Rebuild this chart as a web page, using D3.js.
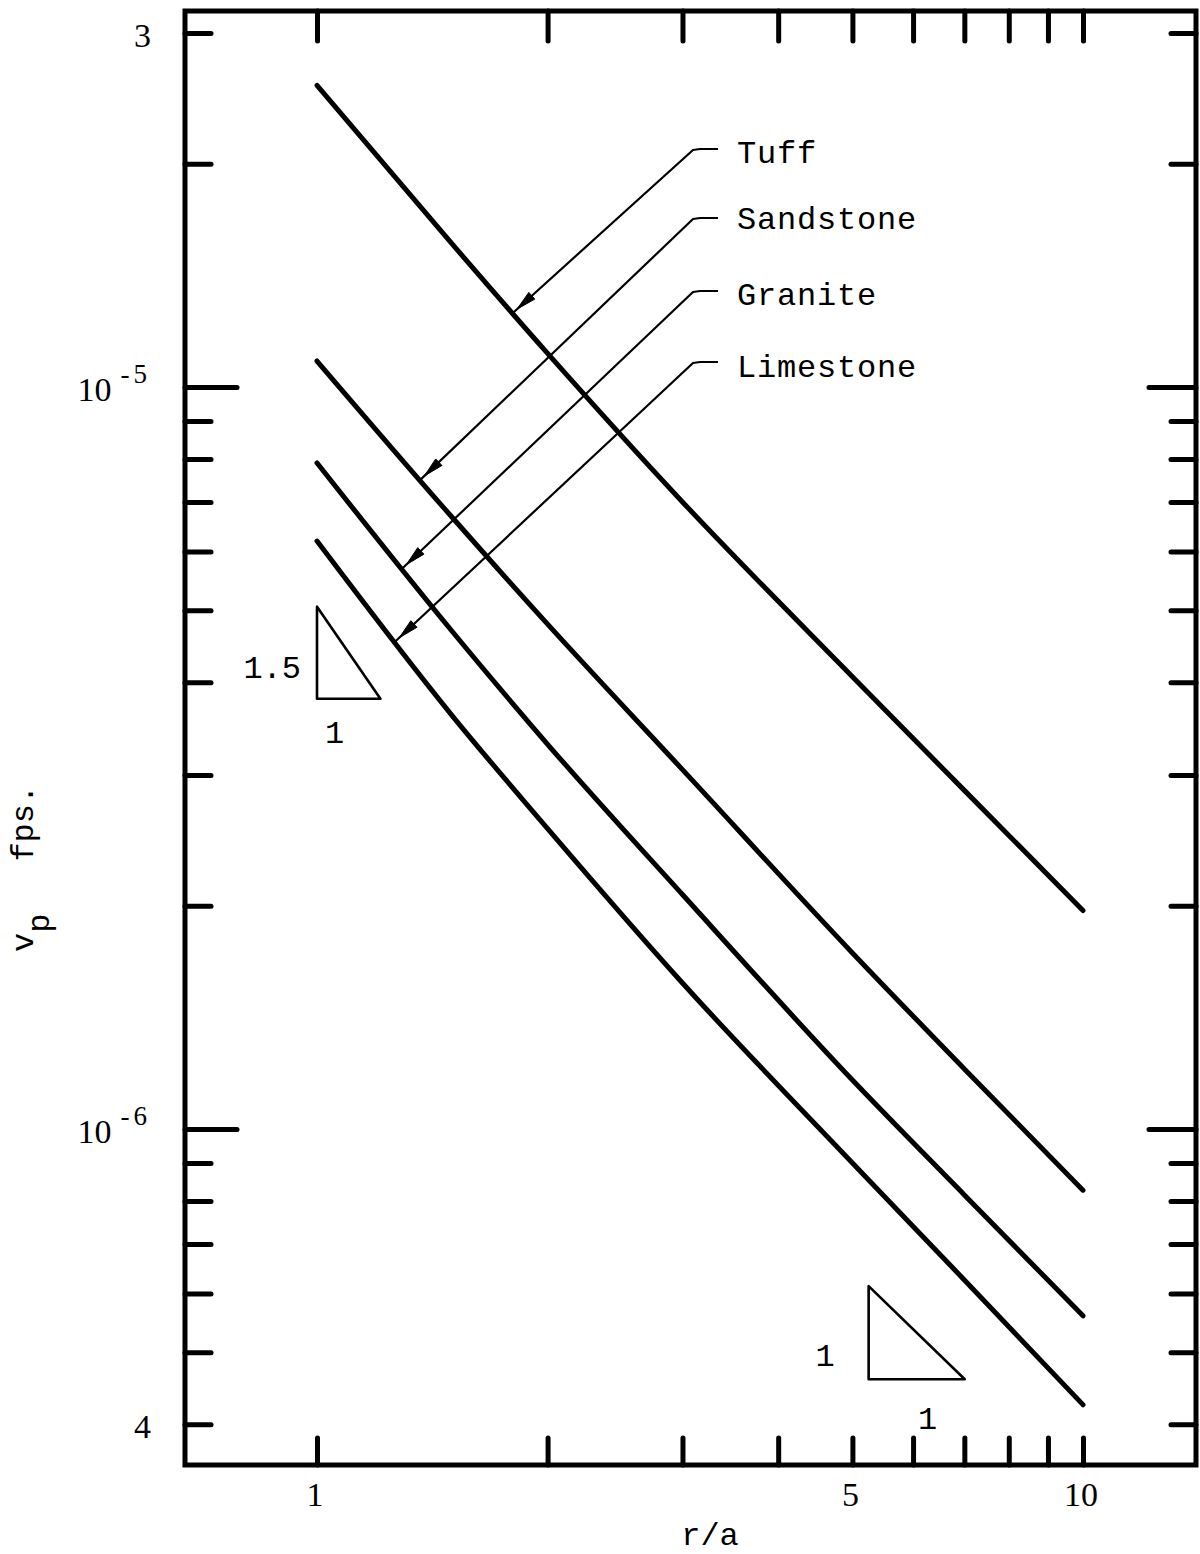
<!DOCTYPE html>
<html>
<head>
<meta charset="utf-8">
<script src="https://cdn.jsdelivr.net/npm/d3@7"></script>
<style>
  html, body { margin: 0; padding: 0; background: #fff; }
  svg { display: block; }
</style>
</head>
<body>
<svg id="chart" width="1200" height="1554"></svg>
<script>
// ---- data ---------------------------------------------------------------
// r/a sample points shared by the four curves
const ratio = [1, 1.5, 2, 3, 5, 7, 10];
// peak particle velocity v_p (fps) per rock type
const tuff      = [2.55e-5, 1.56e-5, 1.11e-5, 7.0e-6, 4.07e-6, 2.86e-6, 1.97e-6];
const sandstone = [1.084e-5, 6.68e-6, 4.79e-6, 3.05e-6, 1.727e-6, 1.205e-6, 8.27e-7];
const granite   = [7.9e-6, 4.69e-6, 3.30e-6, 2.07e-6, 1.164e-6, 8.15e-7, 5.6e-7];
const limestone = [6.2e-6, 3.61e-6, 2.54e-6, 1.573e-6, 9.0e-7, 6.26e-7, 4.25e-7];
const rockNames = ["Tuff", "Sandstone", "Granite", "Limestone"];
const rockSeries = [tuff, sandstone, granite, limestone];
// r/a where each label's leader arrow meets its curve
const arrowRatio = [1.80, 1.363, 1.291, 1.264];

// axis ticks
const xTicks = [1, 2, 3, 4, 5, 6, 7, 8, 9, 10];
const xLabelValues = [1, 5, 10];
const xLabelText = ["1", "5", "10"];
const yMinorTicks = [3e-5, 2e-5, 9e-6, 8e-6, 7e-6, 6e-6, 5e-6, 4e-6, 3e-6, 2e-6,
                     9e-7, 8e-7, 7e-7, 6e-7, 5e-7, 4e-7];
const yMajorTicks = [1e-5, 1e-6];
const yLabelValues = [3e-5, 1e-5, 1e-6, 4e-7];
const yLabelBase = ["3", "10", "10", "4"];
const yLabelExp = ["", "-5", "-6", ""];

// slope triangles: right-angle corner (r/a, v), horizontal run factor, slope
const slopeCornerR = [1.0, 5.25];
const slopeCornerV = [3.8e-6, 4.6e-7];
const slopeRun = [1.21, 1.335];
const slopeRise = [1.5, 1];
const slopeRiseText = ["1.5", "1"];
const slopeRunText = ["1", "1"];

// ---- layout -------------------------------------------------------------
const frame = { left: 185, right: 1196, top: 11, bottom: 1465 };
const serif = "'Liberation Serif', 'Times New Roman', serif";
const mono = "'Liberation Mono', 'Courier New', monospace";

const x = d3.scaleLog().domain([1, 10]).range([317, 1083]);
const y = d3.scaleLog().domain([1e-5, 1e-6]).range([387, 1129]);

const svg = d3.select("#chart");

// ---- frame --------------------------------------------------------------
svg.append("rect")
  .attr("x", frame.left).attr("y", frame.top)
  .attr("width", frame.right - frame.left)
  .attr("height", frame.bottom - frame.top)
  .attr("fill", "none").attr("stroke", "#000").attr("stroke-width", 5);

// ---- tick marks (all pointing into the plot) ----------------------------
function styleTicks(g) {
  g.select(".domain").remove();
  g.selectAll(".tick line")
    .attr("stroke", "#000").attr("stroke-width", 5).attr("stroke-linecap", "round");
  g.selectAll(".tick text").remove();
}
svg.append("g").attr("transform", `translate(${frame.left},0)`)
  .call(d3.axisRight(y).tickValues(yMinorTicks).tickSize(26)).call(styleTicks);
svg.append("g").attr("transform", `translate(${frame.left},0)`)
  .call(d3.axisRight(y).tickValues(yMajorTicks).tickSize(52)).call(styleTicks);
svg.append("g").attr("transform", `translate(${frame.right},0)`)
  .call(d3.axisLeft(y).tickValues(yMinorTicks).tickSize(25)).call(styleTicks);
svg.append("g").attr("transform", `translate(${frame.right},0)`)
  .call(d3.axisLeft(y).tickValues(yMajorTicks).tickSize(47)).call(styleTicks);
svg.append("g").attr("transform", `translate(0,${frame.bottom})`)
  .call(d3.axisTop(x).tickValues(xTicks).tickSize(27)).call(styleTicks);
svg.append("g").attr("transform", `translate(0,${frame.top})`)
  .call(d3.axisBottom(x).tickValues(xTicks).tickSize(30)).call(styleTicks);

// ---- tick labels --------------------------------------------------------
const yLab = svg.append("g")
  .attr("font-family", serif).attr("font-size", 34).attr("fill", "#000");
yLabelValues.forEach((v, i) => {
  const t = yLab.append("text")
    .attr("x", 151).attr("y", y(v) + 14)
    .attr("text-anchor", "end");
  t.append("tspan").text(yLabelBase[i]);
  if (yLabelExp[i]) {
    t.append("tspan").attr("dx", 9).attr("dy", -18)
      .attr("font-size", 27).attr("letter-spacing", 4).text(yLabelExp[i]);
  }
});

svg.append("g")
  .attr("font-family", serif).attr("font-size", 34).attr("fill", "#000")
  .selectAll("text").data(xLabelValues).join("text")
  .attr("x", d => x(d) - 2).attr("y", 1506)
  .attr("text-anchor", "middle")
  .text((d, i) => xLabelText[i]);

// ---- axis titles --------------------------------------------------------
svg.append("text")
  .attr("x", 710).attr("y", 1545)
  .attr("text-anchor", "middle")
  .attr("font-family", mono).attr("font-size", 32).attr("fill", "#000")
  .text("r/a");

const yTitle = svg.append("text")
  .attr("transform", "translate(33,952) rotate(-90)")
  .attr("font-family", mono).attr("font-size", 32).attr("fill", "#000");
yTitle.append("tspan").text("v");
yTitle.append("tspan").attr("dy", 16).text("p");
yTitle.append("tspan").attr("dy", -16).attr("dx", 52).text("fps.");

// ---- curves -------------------------------------------------------------
const line = d3.line()
  .x(d => x(d[0]))
  .y(d => y(d[1]))
  .curve(d3.curveMonotoneX);

rockSeries.forEach(series => {
  svg.append("path")
    .datum(ratio.map((r, i) => [r, series[i]]))
    .attr("d", line)
    .attr("fill", "none")
    .attr("stroke", "#000")
    .attr("stroke-width", 5)
    .attr("stroke-linecap", "round")
    .attr("stroke-linejoin", "round");
});

// value of a series at r, interpolated in log-log between samples
function valueAt(series, r) {
  const lr = Math.log10(r);
  for (let i = 0; i < ratio.length - 1; i++) {
    const a = Math.log10(ratio[i]), b = Math.log10(ratio[i + 1]);
    if (lr >= a && lr <= b) {
      const t = (lr - a) / (b - a);
      const la = Math.log10(series[i]), lb = Math.log10(series[i + 1]);
      return Math.pow(10, la + t * (lb - la));
    }
  }
  return series[series.length - 1];
}

// ---- labels with leader arrows -----------------------------------------
const labelBaseline = [163, 229, 305, 377];
const leaderY = [149, 218, 291, 362];
const labels = svg.append("g");
rockNames.forEach((name, i) => {
  const tipX = x(arrowRatio[i]);
  const tipY = y(valueAt(rockSeries[i], arrowRatio[i]));
  const kneeX = 693, kneeY = leaderY[i] + 1;
  labels.append("path")
    .attr("d", `M718,${leaderY[i]} L700,${leaderY[i]} L${kneeX},${kneeY} L${tipX},${tipY}`)
    .attr("fill", "none").attr("stroke", "#000").attr("stroke-width", 2.2)
    .attr("stroke-linejoin", "round");
  // arrowhead a few pixels back from the curve
  const dx = tipX - kneeX, dy = tipY - kneeY;
  const len = Math.hypot(dx, dy);
  const ux = dx / len, uy = dy / len;
  const hx = tipX - 6 * ux, hy = tipY - 6 * uy;
  const bx = hx - 20 * ux, by = hy - 20 * uy;
  const px = -uy * 4.5, py = ux * 4.5;
  labels.append("path")
    .attr("d", `M${hx},${hy} L${bx + px},${by + py} L${bx - px},${by - py} Z`)
    .attr("fill", "#000").attr("stroke", "#000").attr("stroke-width", 1);
  labels.append("text")
    .attr("x", 737).attr("y", labelBaseline[i])
    .attr("font-family", mono).attr("font-size", 32)
    .attr("letter-spacing", 0.8).attr("fill", "#000")
    .text(name);
});

// ---- slope triangles ----------------------------------------------------
const riseLabelDX = [-16, -34];
const riseLabelDY = [-21, -13];
const runLabelDX = [-14, 11];
const runLabelDY = [44, 50];
slopeCornerR.forEach((r0, i) => {
  const v0 = slopeCornerV[i];
  const r1 = r0 * slopeRun[i];
  const v1 = v0 * Math.pow(slopeRun[i], slopeRise[i]);
  const cx = x(r0), cy = y(v0);
  svg.append("path")
    .attr("d", `M${cx},${y(v1)} L${cx},${cy} L${x(r1)},${cy} Z`)
    .attr("fill", "none").attr("stroke", "#000").attr("stroke-width", 2.6)
    .attr("stroke-linejoin", "round");
  svg.append("text")
    .attr("x", cx + riseLabelDX[i]).attr("y", cy + riseLabelDY[i])
    .attr("text-anchor", "end")
    .attr("font-family", mono).attr("font-size", 32).attr("fill", "#000")
    .text(slopeRiseText[i]);
  svg.append("text")
    .attr("x", (cx + x(r1)) / 2 + runLabelDX[i]).attr("y", cy + runLabelDY[i])
    .attr("text-anchor", "middle")
    .attr("font-family", mono).attr("font-size", 32).attr("fill", "#000")
    .text(slopeRunText[i]);
});
</script>
</body>
</html>
